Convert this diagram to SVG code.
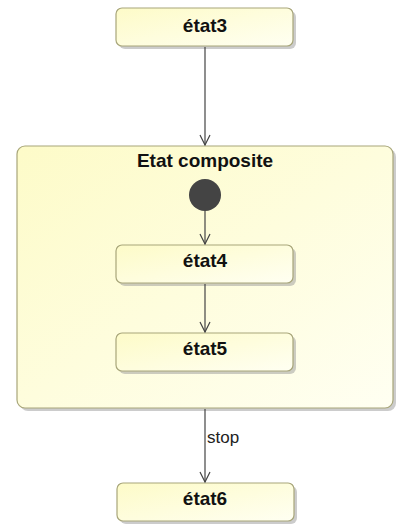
<svg xmlns="http://www.w3.org/2000/svg" width="403" height="524" viewBox="0 0 403 524">
  <style>
    .state { fill: url(#stateFill); stroke: #a8a67a; stroke-width: 1.2; }
    .shadow { fill: #9a9a9a; opacity: 0.5; }
    .name { font-family: "Liberation Sans", Arial, sans-serif; font-weight: bold; font-size: 19px; fill: #111; text-anchor: middle; }
    .edge { stroke: #444; stroke-width: 1.2; fill: none; marker-end: url(#open); }
    .label { font-family: "Liberation Sans", Arial, sans-serif; font-size: 17px; fill: #222; }
  </style>
  <defs>
    <linearGradient id="stateFill" x1="0" y1="0" x2="1" y2="1">
      <stop offset="0" stop-color="#fdfbc8"/>
      <stop offset="1" stop-color="#fffff2"/>
    </linearGradient>
    <marker id="open" viewBox="0 0 12 12" refX="11" refY="6" markerWidth="12" markerHeight="12" markerUnits="userSpaceOnUse" orient="auto">
      <path d="M1,1 L11,6 L1,11" fill="none" stroke="#444" stroke-width="1.2"/>
    </marker>
  </defs>

  <g id="etat3">
    <rect class="shadow" x="119" y="11" width="177" height="38" rx="6"/>
    <rect class="state" x="116" y="8" width="177" height="38" rx="6"/>
    <text class="name" x="205" y="32">état3</text>
  </g>

  <g id="etatComposite">
    <rect class="shadow" x="20" y="149" width="376" height="262" rx="8"/>
    <rect class="state" x="17" y="146" width="376" height="262" rx="8"/>
    <text class="name" x="205" y="167" font-size="20">Etat composite</text>
  </g>

  <g id="initial">
    <circle cx="205" cy="195" r="16" fill="#444"/>
  </g>

  <g id="etat4">
    <rect class="shadow" x="119" y="248" width="177" height="38" rx="6"/>
    <rect class="state" x="116" y="245" width="177" height="38" rx="6"/>
    <text class="name" x="205" y="267">état4</text>
  </g>

  <g id="etat5">
    <rect class="shadow" x="119" y="336" width="177" height="38" rx="6"/>
    <rect class="state" x="116" y="333" width="177" height="38" rx="6"/>
    <text class="name" x="205" y="355">état5</text>
  </g>

  <g id="etat6">
    <rect class="shadow" x="120" y="486" width="177" height="38" rx="6"/>
    <rect class="state" x="117" y="483" width="177" height="38" rx="6"/>
    <text class="name" x="205" y="505">état6</text>
  </g>

  <g id="connectors">
    <line class="edge" x1="205" y1="47" x2="205" y2="145"/>
    <line class="edge" x1="205" y1="211" x2="205" y2="244"/>
    <line class="edge" x1="205" y1="284" x2="205" y2="332"/>
    <line class="edge" x1="205" y1="409" x2="205" y2="482"/>
    <text class="label" x="207" y="443">stop</text>
  </g>
</svg>
